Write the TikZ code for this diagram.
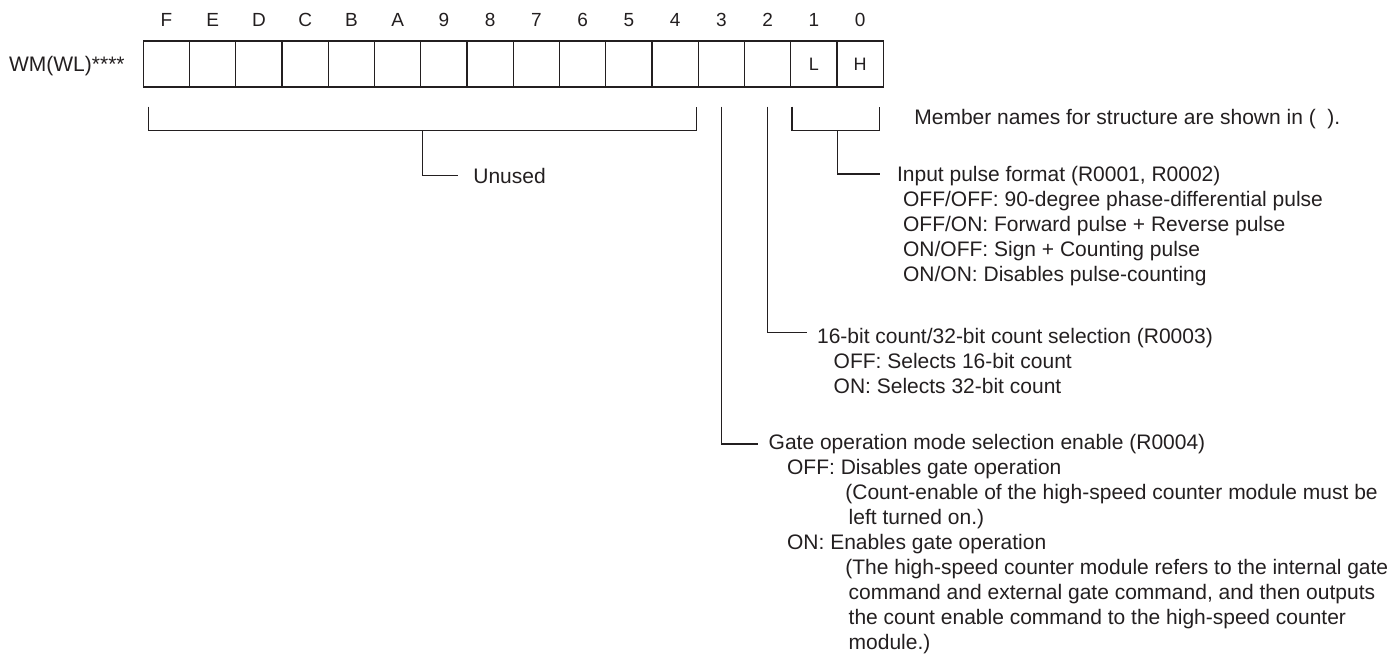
\documentclass[tikz,border=0pt]{standalone}
\usepackage{fontspec}
\setmainfont{Liberation Sans}
\definecolor{ink}{HTML}{231F20}
\tikzset{
  bitbox/.style={draw=ink, line width=0.65pt, minimum width=23.125pt, minimum height=23pt, inner sep=0pt},
  bitnum/.style={anchor=base, text=ink, font=\fontsize{9.5}{11}\selectfont},
  cell/.style={text=ink, inner sep=0pt, font=\fontsize{9}{11}\selectfont},
  head/.style={anchor=west, inner xsep=5pt, inner ysep=0pt, text=ink, font=\fontsize{10.5}{12.5}\selectfont},
  body/.style={anchor=base west, align=left, inner xsep=5pt, inner ysep=0pt, text=ink, font=\fontsize{10.5}{12.5}\selectfont},
  wire/.style={draw=ink, line width=0.65pt}
}
\begin{document}
\begin{tikzpicture}[x=0.5pt, y=-0.5pt]
\useasboundingbox (0,0) rectangle (1399,659);
\foreach \lbl [count=\i from 0] in {F,E,D,C,B,A,9,8,7,6,5,4,3,2,1,0} {
  \node[bitbox] (b\lbl) at (166.4+46.25*\i,64) {};
  \node[bitnum] (n\lbl) at (166.4+46.25*\i,26) {\lbl};
}
\node[cell] (lo) at (b1) {L};
\node[cell] (hi) at (b0) {H};
\node[anchor=base east, inner sep=0pt, text=ink, font=\fontsize{10.5}{12.5}\selectfont] (reg) at (125,71) {WM(WL)****};

\draw[wire] ([shift={(5.7,19)}]bF.south west) |- ([shift={(-2.6,43)}]b4.south east) -- ([shift={(-2.6,19)}]b4.south east);
\node[head, inner xsep=7.5pt] (unused) at (458,175.7) {Unused};
\draw[wire] (422.4,130) |- (unused.west);

\draw[wire] ([shift={(2,19)}]b1.south west) |- ([shift={(-4.3,43)}]b0.south east) -- ([shift={(-4.3,19)}]b0.south east);
\node[anchor=base west, inner sep=0pt, text=ink, font=\fontsize{10.5}{12.5}\selectfont] (note) at (914,124.3) {Member names for structure are shown in (~~).};
\node[head, inner xsep=8.35pt] (pulsehd) at (880,176.5) {Input pulse format (R0001, R0002)};
\node[body, inner xsep=8.35pt] (pulsetx) at ([shift={(6,100)}]pulsehd.base west) {OFF/OFF: 90-degree phase-differential pulse\\
OFF/ON: Forward pulse + Reverse pulse\\
ON/OFF: Sign + Counting pulse\\
ON/ON: Disables pulse-counting};
\draw[wire] ([shift={(0,43)}]b1.south east) |- ([yshift=1.25pt]pulsehd.west);

\node[head] (cnthd) at (806.7,338.5) {16-bit count/32-bit count selection (R0003)};
\node[body] (cnttx) at ([shift={(16.6,50)}]cnthd.base west) {OFF: Selects 16-bit count\\
ON: Selects 32-bit count};
\draw[wire] ([yshift=-9.5pt]b2.south) |- ([yshift=2.9pt]cnthd.west);

\node[head] (gatehd) at (758.3,444) {Gate operation mode selection enable (R0004)};
\node[body] (gatetx) at ([shift={(18.4,200)}]gatehd.base west) {OFF: Disables gate operation\\
\hspace*{29.15pt}(Count-enable of the high-speed counter module must be\\
\hspace*{30.8pt}left turned on.)\\
ON: Enables gate operation\\
\hspace*{29.15pt}(The high-speed counter module refers to the internal gate\\
\hspace*{30.8pt}command and external gate command, and then outputs\\
\hspace*{30.8pt}the count enable command to the high-speed counter\\
\hspace*{30.8pt}module.)};
\draw[wire] ([yshift=-9.5pt]b3.south) |- (gatehd.west);
\end{tikzpicture}
\end{document}
